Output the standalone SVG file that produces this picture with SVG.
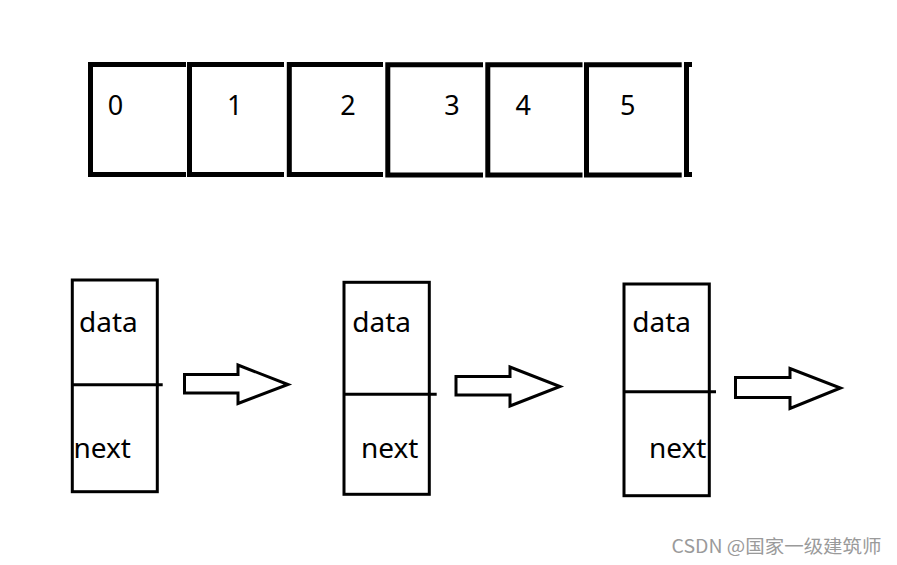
<svg xmlns="http://www.w3.org/2000/svg" width="897" height="565" viewBox="0 0 897 565">
<style>
.cell{fill:none;stroke:#000;stroke-width:5;stroke-linejoin:miter}
.num{font-family:"Noto Sans","Open Sans",sans-serif;font-size:27px;fill:#000;text-anchor:middle}
.box{fill:#fff;stroke:#000;stroke-width:3}
.div{stroke:#000;stroke-width:3}
.lbl{font-family:"Noto Sans","Open Sans",sans-serif;font-size:28px;fill:#000}
.arrow{fill:#fff;stroke:#000;stroke-width:3;stroke-linejoin:miter}
.wm{font-family:"Noto Sans CJK SC","Noto Sans",sans-serif;font-size:18px;fill:#9a9a9a}
</style>
<rect width="897" height="565" fill="#fff"/>
<g id="array">
  <g id="cell0"><path class="cell" d="M186 64.5 H90.5 V174.5 H186"/><text class="num" x="115.5" y="115">0</text></g>
  <g id="cell1"><path class="cell" d="M284 64.5 H189.5 V174.5 H284"/><text class="num" x="234.7" y="115">1</text></g>
  <g id="cell2"><path class="cell" d="M383 64.5 H289.3 V174.5 H383"/><text class="num" x="348" y="115">2</text></g>
  <g id="cell3"><path class="cell" d="M483 64.8 H387.8 V175 H483"/><text class="num" x="452" y="115">3</text></g>
  <g id="cell4"><path class="cell" d="M582.5 64.8 H487.8 V175 H582.5"/><text class="num" x="523.3" y="115">4</text></g>
  <g id="cell5"><path class="cell" d="M681.7 64.8 H586.5 V175 H681.7"/><text class="num" x="627.8" y="115">5</text></g>
  <g id="cell6"><path class="cell" d="M692 64.5 H686.5 V174.5 H692"/></g>
</g>
<g id="node1">
  <rect class="box" x="72.3" y="280" width="85" height="211.7"/>
  <line class="div" x1="72.3" y1="384.7" x2="162.7" y2="384.7"/>
  <text class="lbl" x="79" y="332.3">data</text>
  <text class="lbl" x="73.5" y="458.3">next</text>
</g>
<g id="node2">
  <rect class="box" x="344" y="282.3" width="85.3" height="212"/>
  <line class="div" x1="344" y1="394.2" x2="436.7" y2="394.2"/>
  <text class="lbl" x="352.3" y="332.3">data</text>
  <text class="lbl" x="361" y="458.3">next</text>
</g>
<g id="node3">
  <rect class="box" x="624" y="284" width="85.3" height="211.7"/>
  <line class="div" x1="624" y1="391.7" x2="716" y2="391.7"/>
  <text class="lbl" x="632.3" y="332.3">data</text>
  <text class="lbl" x="649" y="458.3">next</text>
</g>
<g id="connectors">
  <polygon class="arrow" points="184.5,374.5 238,374.5 238,365 288,384.5 238,403.5 238,393 184.5,393"/>
  <polygon class="arrow" points="456,376.5 510,376.5 510,367 560,386.5 510,406 510,395 456,395"/>
  <polygon class="arrow" points="735.5,377.5 790,377.5 790,368.5 840.5,388 790,408.5 790,397.5 735.5,397.5"/>
</g>
<text class="wm" x="671.5" y="553" textLength="210" lengthAdjust="spacingAndGlyphs">CSDN @国家一级建筑师</text>
</svg>
